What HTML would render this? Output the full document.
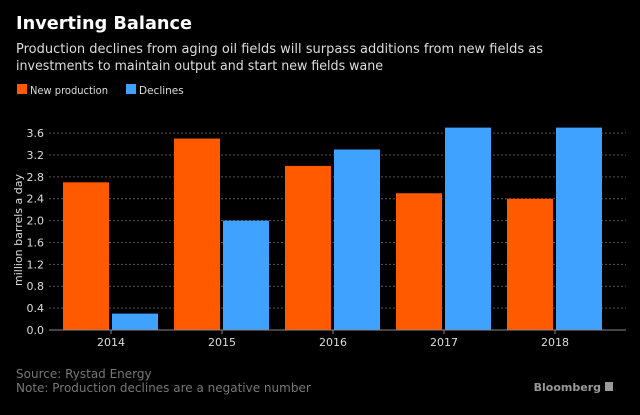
<!DOCTYPE html>
<html><head><meta charset="utf-8"><style>
body{margin:0;background:#000;width:640px;height:411px;overflow:hidden;font-family:"DejaVu Sans","Liberation Sans",sans-serif}
text{font-family:"DejaVu Sans","Liberation Sans",sans-serif}
</style></head><body>
<svg width="640" height="411">
<rect width="640" height="411" fill="#000"/>
<text x="16" y="29" fill="#fff" font-size="18" font-weight="bold" textLength="176" lengthAdjust="spacingAndGlyphs">Inverting Balance</text>
<text x="16" y="53" fill="#ddd" font-size="13.3" textLength="527" lengthAdjust="spacingAndGlyphs">Production declines from aging oil fields will surpass additions from new fields as</text>
<text x="16" y="70" fill="#ddd" font-size="13.3" textLength="367" lengthAdjust="spacingAndGlyphs">investments to maintain output and start new fields wane</text>
<g><rect x="17" y="84" width="10" height="10" fill="#ff5a00"/><text x="30" y="94" fill="#ddd" font-size="10.5" textLength="78" lengthAdjust="spacingAndGlyphs">New production</text></g>
<g><rect x="126" y="84" width="10" height="10" fill="#3fa2ff"/><text x="139" y="94" fill="#ddd" font-size="10.5">Declines</text></g>
<g id="grid"></g><g id="bars"></g><g id="axis"></g>
<text transform="translate(22,230) rotate(-90)" text-anchor="middle" fill="#ddd" font-size="11">million barrels a day</text>
<text x="16" y="378" fill="#777" font-size="12">Source: Rystad Energy</text>
<text x="16" y="392" fill="#777" font-size="12">Note: Production declines are a negative number</text>
<text x="601" y="391" text-anchor="end" fill="#999" font-size="11" font-weight="bold">Bloomberg</text>
<rect x="605" y="382" width="8" height="9" fill="#999"/>
</svg>
<script>
const categories=["2014","2015","2016","2017","2018"];
const newProduction=[2.7,3.5,3.0,2.5,2.4];
const declines=[0.3,2.0,3.3,3.7,3.7];
const yTicks=[0,0.4,0.8,1.2,1.6,2.0,2.4,2.8,3.2,3.6];
const NS="http://www.w3.org/2000/svg";
const y0=330,pxPerUnit=54.7,x0=55.5,step=111;
const y=v=>y0-v*pxPerUnit;
const xc=i=>x0+step*(i+0.5);
function mk(t,a,p){const e=document.createElementNS(NS,t);for(const k in a)e.setAttribute(k,a[k]);document.getElementById(p).appendChild(e);return e;}
yTicks.forEach(v=>{
 if(v>0){const l=mk('line',{x1:49,x2:626,y1:y(v),y2:y(v),stroke:'#555','stroke-dasharray':'2,2'},'grid');
 
 }
 const t=mk('text',{x:44,y:y(v)+4,'text-anchor':'end',fill:'#ddd','font-size':11},'axis');t.textContent=v.toFixed(1);
 
 
});
const ax=mk('line',{x1:49,x2:626,y1:y0,y2:y0,stroke:'#888'},'axis');


categories.forEach((c,i)=>{
 const cx=xc(i);
 const b1=mk('rect',{x:cx-48,y:y(newProduction[i]),width:46,height:newProduction[i]*pxPerUnit,fill:'#ff5a00'},'bars');
 
 
 const b2=mk('rect',{x:cx+1,y:y(declines[i]),width:46,height:declines[i]*pxPerUnit,fill:'#3fa2ff'},'bars');
 
 
 mk('line',{x1:cx,x2:cx,y1:y0,y2:y0+4,stroke:'#888'},'axis');
 const t=mk('text',{x:cx,y:y0+16,'text-anchor':'middle',fill:'#ddd','font-size':11},'axis');t.textContent=c;
 
 
});
</script>
</body></html>
